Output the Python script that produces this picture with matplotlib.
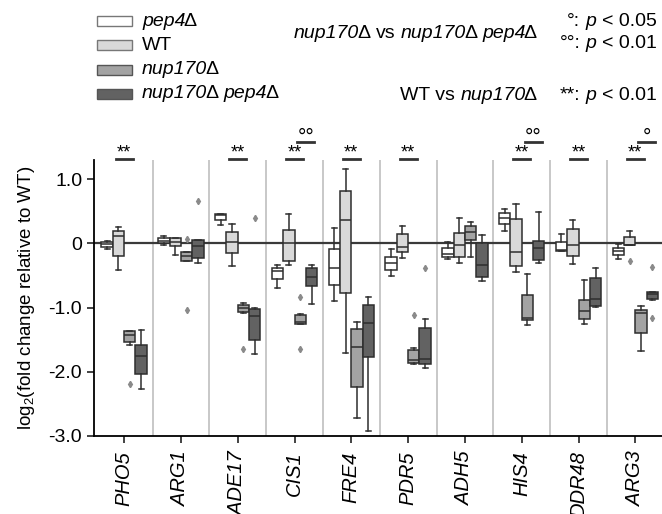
import matplotlib
matplotlib.use("Agg")
import matplotlib.pyplot as plt
from matplotlib.patches import Rectangle
from matplotlib.text import Annotation

plt.rcParams.update({
    "font.family": ["Liberation Sans", "DejaVu Sans"],
    "font.size": 14,
    "mathtext.fontset": "custom",
    "mathtext.rm": "Liberation Sans",
    "mathtext.it": "Liberation Sans:italic",
})

genes = ["PHO5", "ARG1", "ADE17", "CIS1", "FRE4", "PDR5", "ADH5", "HIS4", "DDR48", "ARG3"]

# per gene: whisker low, q1, median, q3, whisker high
pep4_stats = [
    [-0.09, -0.05, -0.01, 0.03, 0.04],
    [-0.02, 0.00, 0.04, 0.08, 0.12],
    [0.28, 0.37, 0.45, 0.46, 0.46],
    [-0.70, -0.56, -0.43, -0.39, -0.34],
    [-0.90, -0.64, -0.39, -0.08, 0.24],
    [-0.51, -0.41, -0.31, -0.21, -0.09],
    [-0.25, -0.21, -0.16, -0.07, 0.03],
    [0.20, 0.30, 0.39, 0.47, 0.54],
    [-0.11, -0.11, -0.10, 0.02, 0.14],
    [-0.24, -0.18, -0.11, -0.07, -0.01],
]
wt_stats = [
    [-0.42, -0.19, 0.12, 0.20, 0.26],
    [-0.18, -0.04, 0.03, 0.08, 0.09],
    [-0.35, -0.15, 0.02, 0.18, 0.30],
    [-0.34, -0.28, 0.00, 0.21, 0.46],
    [-1.70, -0.77, 0.37, 0.82, 1.16],
    [-0.22, -0.13, -0.05, 0.15, 0.27],
    [-0.30, -0.21, -0.03, 0.17, 0.39],
    [-0.45, -0.35, -0.14, 0.38, 0.61],
    [-0.32, -0.20, -0.03, 0.22, 0.36],
    [-0.02, -0.02, -0.02, 0.10, 0.20],
]
nup170_stats = [
    [-1.58, -1.54, -1.42, -1.37, -1.36],
    [-0.28, -0.27, -0.19, -0.13, -0.13],
    [-1.08, -1.07, -1.01, -0.96, -0.93],
    [-1.26, -1.25, -1.22, -1.12, -1.10],
    [-2.72, -2.23, -1.61, -1.33, -1.22],
    [-1.88, -1.87, -1.81, -1.66, -1.63],
    [-0.21, 0.05, 0.18, 0.27, 0.33],
    [-1.27, -1.20, -1.16, -0.81, -0.47],
    [-1.26, -1.18, -1.06, -0.88, -0.57],
    [-1.68, -1.39, -1.09, -1.04, -0.98],
]
double_stats = [
    [-2.27, -2.04, -1.76, -1.58, -1.35],
    [-0.31, -0.23, -0.04, 0.05, 0.06],
    [-1.72, -1.51, -1.13, -1.02, -1.00],
    [-0.95, -0.67, -0.53, -0.39, -0.33],
    [-2.92, -1.77, -1.24, -0.96, -0.83],
    [-1.94, -1.88, -1.80, -1.32, -1.18],
    [-0.58, -0.53, -0.34, 0.00, 0.13],
    [-0.31, -0.26, -0.07, 0.04, 0.49],
    [-0.99, -0.97, -0.87, -0.54, -0.39],
    [-0.88, -0.87, -0.78, -0.76, -0.75],
]
pep4_fliers = [[], [], [], [], [], [], [], [], [], []]
wt_fliers = [[], [], [], [], [], [], [], [], [], [-0.27]]
nup170_fliers = [[-2.19], [0.07, -1.03], [-1.65], [-0.83, -1.65], [], [-1.11], [], [], [], []]
double_fliers = [[], [0.66], [0.39], [], [], [-0.39], [], [], [], [-0.36, -1.16]]

# legend labels as (text, italic) pieces
strain_labels = [
    [("pep4", True), ("Δ", False)],
    [("WT", False)],
    [("nup170", True), ("Δ", False)],
    [("nup170", True), ("Δ", False), (" pep4", True), ("Δ", False)],
]
strain_colors = ["#ffffff", "#d9d9d9", "#a3a3a3", "#626262"]

# significance: WT vs nup170 (**), nup170 vs nup170 pep4 (° / °°)
star_genes = ["PHO5", "ADE17", "CIS1", "FRE4", "PDR5", "HIS4", "DDR48", "ARG3"]
circle_marks = {"CIS1": "°°", "HIS4": "°°", "ARG3": "°"}

W, H = 662, 514
fig = plt.figure(figsize=(W / 100, H / 100), dpi=100)
ax = fig.add_axes([94 / W, 1 - 436 / H, 1 - 94 / W, (436 - 160) / H])


def rich(x, y, parts, ha="left", size=14):
    """Draw a row of text pieces, some italic, starting (or ending) at pixel x, y."""
    sp = 0.278 * size
    items = [(t.lstrip(" "), it, t.startswith(" ")) for t, it in parts]
    sty = lambda it: "italic" if it else "normal"

    def gap_pts(left_it, has_gap):
        # italic glyph boxes leave a little air before an upright piece
        if has_gap:
            return sp
        return -1.5 if left_it else 0

    if ha == "left":
        t, it, _ = items[0]
        prev = fig.text(x / W, 1 - y / H, t, ha="left", va="center", fontsize=size, style=sty(it))
        prev_it = it
        for t, it, gap in items[1:]:
            a = Annotation(t, xy=(1, 0), xycoords=prev, xytext=(gap_pts(prev_it, gap), 0),
                           textcoords="offset points", ha="left", va="bottom",
                           fontsize=size, style=sty(it))
            fig.add_artist(a)
            prev, prev_it = a, it
    else:
        t, it, gap_next = items[-1]
        prev = fig.text(x / W, 1 - y / H, t, ha="right", va="center", fontsize=size, style=sty(it))
        for t, it, gap in reversed(items[:-1]):
            a = Annotation(t, xy=(0, 0), xycoords=prev, xytext=(-gap_pts(it, gap_next), 0),
                           textcoords="offset points", ha="right", va="bottom",
                           fontsize=size, style=sty(it))
            fig.add_artist(a)
            prev = a
            gap_next = gap


offsets = [-0.3, -0.1, 0.1, 0.3]
all_stats = [pep4_stats, wt_stats, nup170_stats, double_stats]
all_fliers = [pep4_fliers, wt_fliers, nup170_fliers, double_fliers]
edge = "#2e2e2e"
for stats, fl, col, off in zip(all_stats, all_fliers, strain_colors, offsets):
    bstats = []
    for st, f in zip(stats, fl):
        lo, q1, med, q3, hi = st
        bstats.append(dict(whislo=lo, q1=q1, med=med, q3=q3, whishi=hi, fliers=f))
    pos = [i + off for i in range(len(genes))]
    ax.bxp(bstats, positions=pos, widths=0.2, patch_artist=True, capwidths=0.09,
           boxprops=dict(facecolor=col, edgecolor=edge, linewidth=1.1),
           medianprops=dict(color=edge, linewidth=1.1),
           whiskerprops=dict(color=edge, linewidth=1.1),
           capprops=dict(color=edge, linewidth=1.1),
           flierprops=dict(marker="d", markersize=3.2, markerfacecolor="#8a8a8a",
                           markeredgecolor="#8a8a8a"),
           zorder=3)

ax.axhline(0, color="#3a3a3a", lw=1.6, zorder=1)
for i in range(len(genes)):
    ax.axvline(i + 0.5, color="#c8c8c8", lw=1.4, zorder=0)

for g in star_genes:
    i = genes.index(g)
    ax.plot([i - 0.15, i + 0.15], [1.31, 1.31], color="#333333", lw=2, clip_on=False)
    ax.text(i, 1.41, "**", ha="center", va="center", fontsize=13, clip_on=False)
for g, mark in circle_marks.items():
    i = genes.index(g)
    ax.plot([i + 0.05, i + 0.35], [1.58, 1.58], color="#333333", lw=2, clip_on=False)
    ax.text(i + 0.2, 1.66, mark, ha="center", va="center", fontsize=15, clip_on=False)

ax.set_xlim(-0.53, 9.47)
ax.set_ylim(-3.0, 1.3)
ax.set_xticks(range(len(genes)))
ax.set_xticklabels(genes, rotation=90, style="italic", fontsize=14.5)
ax.set_yticks([1.0, 0, -1.0, -2.0, -3.0])
ax.set_yticklabels(["1.0", "0", "-1.0", "-2.0", "-3.0"], fontsize=14)
ax.tick_params(direction="out", length=5, width=1.2, color="#222222")
ax.tick_params(axis="x", pad=6)
ax.set_ylabel(r"log$_2$(fold change relative to WT)", fontsize=13.5, labelpad=8)
for s in ("top", "right"):
    ax.spines[s].set_visible(False)
for s in ("left", "bottom"):
    ax.spines[s].set_linewidth(1.3)
ax.grid(False)

# legend, drawn by hand at the top left
rows = [21, 45, 70, 94]
for parts, col, y in zip(strain_labels, strain_colors, rows):
    ec = "#777777" if col in ("#ffffff", "#d9d9d9") else "#555555"
    fig.add_artist(Rectangle((97 / W, 1 - (y + 4.5) / H), 35 / W, 9 / H,
                             facecolor=col, edgecolor=ec, lw=1, transform=fig.transFigure))
    rich(142, y, parts)

rich(537, 33, [("nup170", True), ("Δ", False), (" vs", False), (" nup170", True), ("Δ", False),
               (" pep4", True), ("Δ", False)], ha="right")
rich(657, 21, [("°:", False), (" p", True), (" < 0.05", False)], ha="right")
rich(657, 43, [("°°:", False), (" p", True), (" < 0.01", False)], ha="right")
rich(537, 95, [("WT vs", False), (" nup170", True), ("Δ", False)], ha="right")
rich(657, 95, [("**:", False), (" p", True), (" < 0.01", False)], ha="right")

fig.savefig("out.png", dpi=100, facecolor="white")
